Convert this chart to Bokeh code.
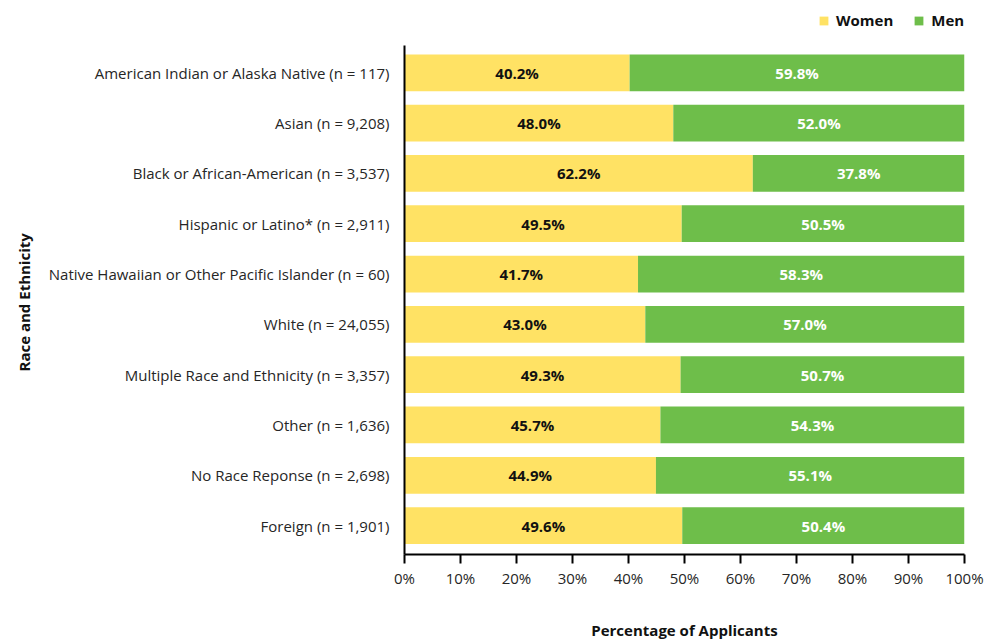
from bokeh.plotting import figure
from bokeh.models import (ColumnDataSource, Range1d, Legend, LegendItem, Title,
                          PrintfTickFormatter, FixedTicker)
from bokeh.core.properties import value
from bokeh.embed import file_html
from bokeh.resources import INLINE

categories = [
    "American Indian or Alaska Native (n = 117)",
    "Asian (n = 9,208)",
    "Black or African-American (n = 3,537)",
    "Hispanic or Latino* (n = 2,911)",
    "Native Hawaiian or Other Pacific Islander (n = 60)",
    "White (n = 24,055)",
    "Multiple Race and Ethnicity (n = 3,357)",
    "Other (n = 1,636)",
    "No Race Reponse (n = 2,698)",
    "Foreign (n = 1,901)",
]
women = [40.2, 48.0, 62.2, 49.5, 41.7, 43.0, 49.3, 45.7, 44.9, 49.6]
men = [59.8, 52.0, 37.8, 50.5, 58.3, 57.0, 50.7, 54.3, 55.1, 50.4]
x_ticks = list(range(0, 101, 10))

FONT = "Open Sans"
FS = "15px"
WOMEN_COLOR = "#FFE264"
MEN_COLOR = "#6EBE4A"

# category positions: first category at the top
ypos = [len(categories) - 1 - i for i in range(len(categories))]

source = ColumnDataSource(dict(
    y=ypos,
    women=women,
    men=men,
    women_mid=[w / 2 for w in women],
    men_mid=[w + m / 2 for w, m in zip(women, men)],
    women_lbl=[f"{w:.1f}%" for w in women],
    men_lbl=[f"{m:.1f}%" for m in men],
))

p = figure(
    width=998, height=642,
    y_range=Range1d(-0.575, 10.338),
    x_range=Range1d(0, 100),
    output_backend="svg", toolbar_location=None,
    min_border_left=404, min_border_right=34, min_border_top=5, min_border_bottom=87,
)
p.outline_line_color = None
p.xgrid.visible = False
p.ygrid.visible = False

rs = p.hbar_stack(["women", "men"], y="y", height=0.73,
                  color=[WOMEN_COLOR, MEN_COLOR], line_color=None, source=source)

p.text(x="women_mid", y="y", text="women_lbl", source=source,
       text_align="center", text_baseline="middle", text_color="#111111",
       text_font=value(FONT), text_font_size=FS, text_font_style="bold")
p.text(x="men_mid", y="y", text="men_lbl", source=source,
       text_align="center", text_baseline="middle", text_color="#ffffff",
       text_font=value(FONT), text_font_size=FS, text_font_style="bold")

# x axis
xa = p.xaxis[0]
xa.ticker = FixedTicker(ticks=x_ticks)
xa.formatter = PrintfTickFormatter(format="%d%%")
xa.axis_line_color = "black"
xa.axis_line_width = 2
xa.major_tick_line_color = "black"
xa.major_tick_line_width = 2
xa.major_tick_out = 9
xa.major_tick_in = 0
xa.minor_tick_line_color = None
xa.major_label_text_font = FONT
xa.major_label_text_font_size = FS
xa.major_label_text_color = "#262626"
xa.major_label_standoff = 4
xa.axis_label = "Percentage of Applicants"
xa.axis_label_text_font = FONT
xa.axis_label_text_font_size = FS
xa.axis_label_text_font_style = "bold"
xa.axis_label_text_color = "#111111"
xa.axis_label_standoff = 29

# y axis
ya = p.yaxis[0]
ya.ticker = FixedTicker(ticks=ypos)
ya.major_label_overrides = {y: c for y, c in zip(ypos, categories)}
ya.bounds = (-0.575, 9.54)
ya.axis_line_color = "black"
ya.axis_line_width = 2
ya.major_tick_line_color = None
ya.minor_tick_line_color = None
ya.major_label_text_font = FONT
ya.major_label_text_font_size = FS
ya.major_label_text_color = "#262626"
ya.major_label_standoff = 9

# y axis title, placed so that it is centred on the axis line (not the taller frame)
ytitle = Title(text="Race and Ethnicity", align="left", vertical_align="top",
               offset=183, standoff=20,
               text_font=FONT, text_font_size=FS, text_font_style="bold",
               text_color="#111111")
p.add_layout(ytitle, "left")

legend = Legend(
    items=[LegendItem(label="Women", renderers=[rs[0]]),
           LegendItem(label="Men", renderers=[rs[1]])],
    orientation="horizontal", location=(414, 524),
    label_text_font=FONT, label_text_font_size=FS, label_text_font_style="bold",
    label_text_color="#111111",
    glyph_width=11, glyph_height=11, label_standoff=7, spacing=20,
    padding=0, margin=0, border_line_alpha=0, background_fill_alpha=0,
)
p.add_layout(legend, "center")

open("out.html", "w").write(file_html(p, INLINE))
